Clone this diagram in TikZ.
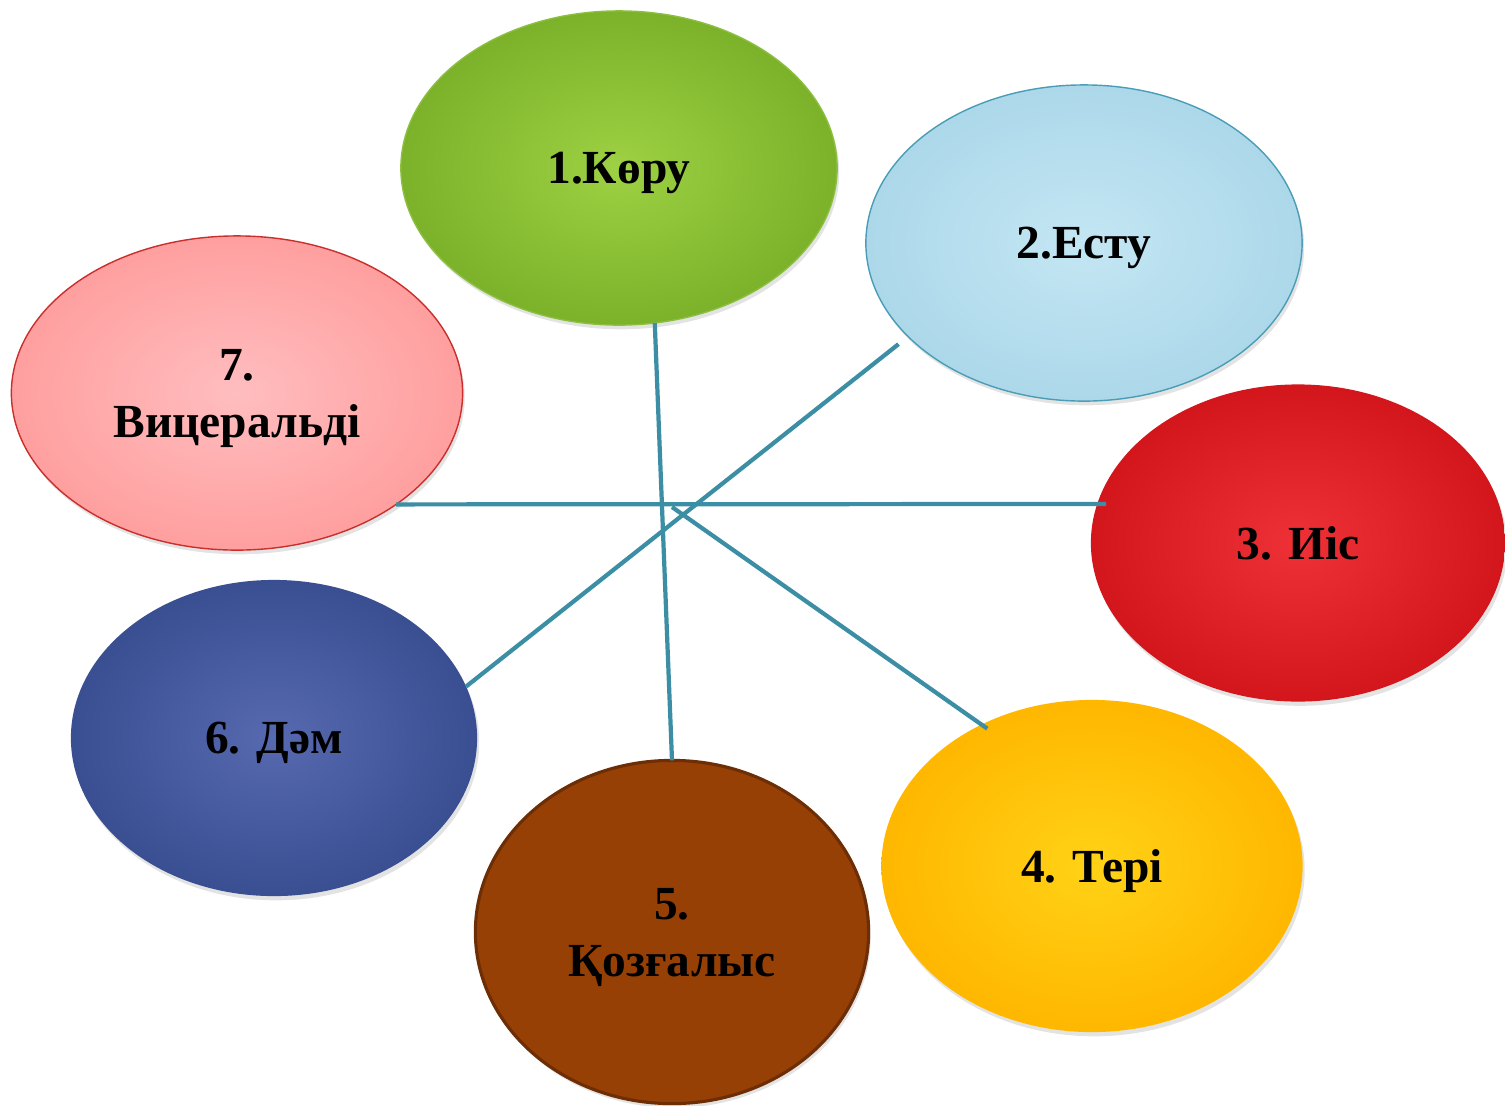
\documentclass[tikz,border=0pt]{standalone}
\usepackage{fontspec}
\setmainfont{Liberation Serif}
\usepackage{tikz}
\usetikzlibrary{shapes,positioning,shadows}
\definecolor{linkcol}{HTML}{3C8EA5}
\definecolor{green1}{HTML}{9ED143}
\definecolor{green2}{HTML}{7BB22A}
\definecolor{green3}{HTML}{8CBF3F}
\definecolor{blue1}{HTML}{C4E6F3}
\definecolor{blue2}{HTML}{ACD8EA}
\definecolor{blue3}{HTML}{4A9DB6}
\definecolor{red1}{HTML}{EE3136}
\definecolor{red2}{HTML}{D3161B}
\definecolor{yellow1}{HTML}{FFD216}
\definecolor{yellow2}{HTML}{FFB700}
\definecolor{brown1}{HTML}{974005}
\definecolor{brown3}{HTML}{6D2E05}
\definecolor{navy1}{HTML}{5769B0}
\definecolor{navy2}{HTML}{394F91}
\definecolor{pink1}{HTML}{FFBDBF}
\definecolor{pink2}{HTML}{FF9F9F}
\definecolor{pink3}{HTML}{C9302C}

\begin{document}
\begin{tikzpicture}[x=0.01cm,y=-0.01cm,
  sense/.style={ellipse,inner sep=0pt,outer sep=0pt,shading=radial,align=center,
    text depth=0pt,font=\bfseries\fontsize{13.5}{16.2}\selectfont,
    drop shadow={shadow xshift=0.6pt,shadow yshift=-1.2pt,opacity=0.22}},
  link/.style={draw=linkcol,line width=1.2pt}]
\clip (0,0) rectangle (1505,1105);
\node[sense,minimum width=4.36cm,minimum height=3.14cm,inner color=green1,outer color=green2,draw=green3,thin] (s1) at (619,168) {1.Көру};
\node[sense,minimum width=4.36cm,minimum height=3.16cm,inner color=blue1,outer color=blue2,draw=blue3,thin] (s2) at (1084,243) {2.Есту};
\node[sense,minimum width=4.14cm,minimum height=3.17cm,inner color=red1,outer color=red2] (s3) at (1298,543) {3. Иіс};
\node[sense,minimum width=4.21cm,minimum height=3.32cm,inner color=yellow1,outer color=yellow2] (s4) at (1092,866) {4. Тері};
\node[sense,minimum width=3.93cm,minimum height=3.43cm,inner color=brown1,outer color=brown1,draw=brown3,line width=0.9pt] (s5) at (672,932) {5.\\Қозғалыс};
\node[sense,minimum width=4.06cm,minimum height=3.16cm,inner color=navy1,outer color=navy2] (s6) at (274,738) {6. Дәм};
\node[sense,minimum width=4.51cm,minimum height=3.14cm,inner color=pink1,outer color=pink2,draw=pink3,thin] (s7) at (237,393) {7.\\Вицеральді};
\coordinate (c) at (672,507);
\path[link] (s1.-77) edge (s5.north);
\path[link] (s6.15) edge[shorten >=3.5pt] (s2.208);
\path[link] (s7.-35) edge[shorten >=-2.5pt] (s3.169);
\path[link] (c) edge[shorten >=-2pt] (s4.128);
\end{tikzpicture}
\end{document}
